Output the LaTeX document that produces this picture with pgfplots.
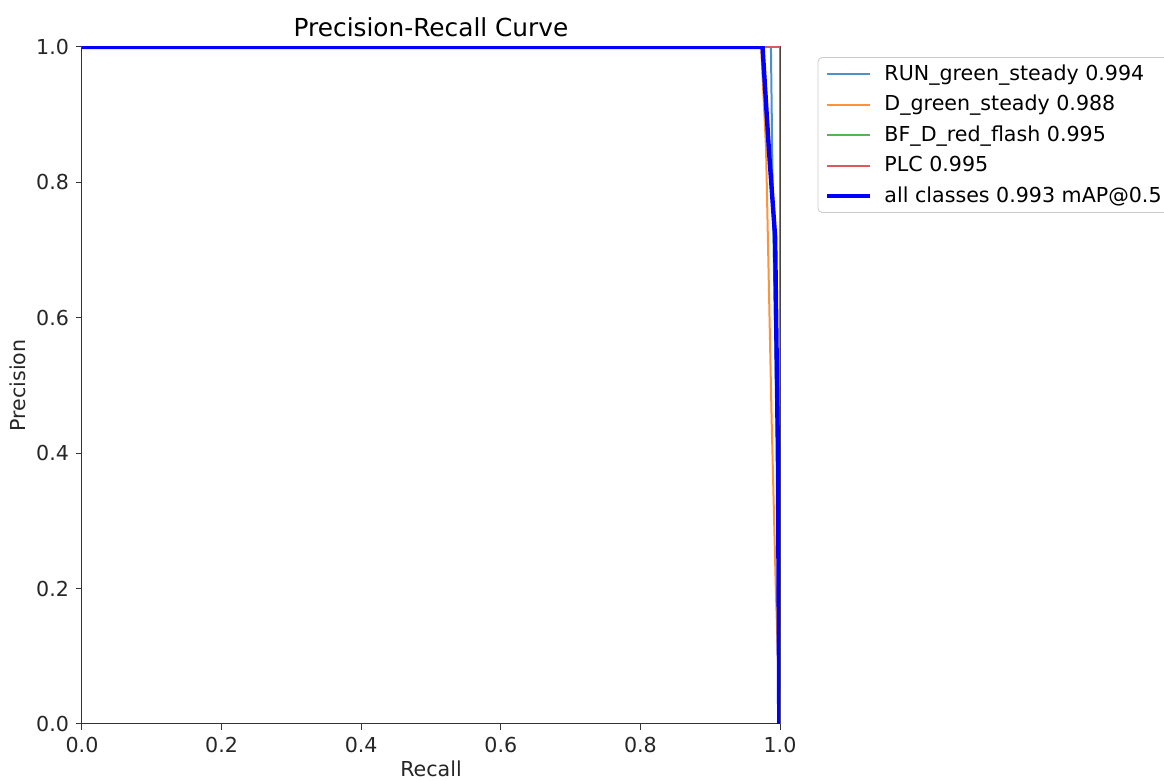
\documentclass[border=0pt]{standalone}
\usepackage{pgfplots}
\pgfplotsset{compat=1.18}
\usepackage{fontspec}
\setmainfont{DejaVu Sans}
\definecolor{runcol}{HTML}{4C92C8}
\definecolor{dcol}{HTML}{FF933A}
\definecolor{bfcol}{HTML}{56B356}
\definecolor{plccol}{HTML}{DE5A5A}
\begin{document}
\begin{tikzpicture}
\begin{axis}[
  scale only axis,
  width=349pt, height=338.5pt,
  xmin=0, xmax=1, ymin=0, ymax=1,
  xtick={0,0.2,...,1.0}, ytick={0,0.2,...,1.0},
  xticklabel style={/pgf/number format/.cd,fixed,fixed zerofill,precision=1,assume math mode=true},
  yticklabel style={/pgf/number format/.cd,fixed,fixed zerofill,precision=1,assume math mode=true},
  tick label style={font=\fontsize{10.3}{12}\selectfont, color=black!85},
  tick align=outside, tickwidth=3pt,
  xtick pos=bottom, ytick pos=left,
  axis line style={black!80, line width=0.5pt},
  major tick style={black!80, line width=0.5pt},
  xlabel={Recall}, ylabel={Precision},
  label style={font=\fontsize{10.3}{12}\selectfont, color=black!85},
  xlabel style={yshift=3pt},
  ylabel style={yshift=-1.5pt},
  title={Precision-Recall Curve},
  title style={font=\fontsize{12.4}{14}\selectfont, yshift=-4.5pt},
  legend style={at={(1.054,0.985)}, anchor=north west, draw=black!20,
    rounded corners=2pt, font=\fontsize{10.3}{12}\selectfont, row sep=2pt,
    inner xsep=3.5pt, inner ysep=1.5pt, legend cell align=left,
    nodes={inner xsep=6pt}},
  legend image code/.code={\draw[#1] (0cm,0cm) -- (21.5pt,0cm);},
]
\addplot[color=runcol, line width=1pt] coordinates {
  (0,1)(0.987,1)(0.990,0.75)(0.996,0.40)(1.0,0.0)
};
\addlegendentry{RUN\_green\_steady 0.994}
\addplot[color=dcol, line width=1pt] coordinates {
  (0,1)(0.973,1)(0.980,0.85)(0.988,0.45)(0.994,0.20)(1.0,0.0)
};
\addlegendentry{D\_green\_steady 0.988}
\addplot[color=bfcol, line width=1pt] coordinates {
  (0,1)(1.0,1)(1.0,0.0)
};
\addlegendentry{BF\_D\_red\_flash 0.995}
\addplot[color=plccol, line width=1pt] coordinates {
  (0,1)(1.0,1)(1.0,0.0)
};
\addlegendentry{PLC 0.995}
\addplot[color=blue, line width=2.2pt] coordinates {
  (0,1)(0.975,1)(0.984,0.85)(0.993,0.72)(0.997,0.40)(0.999,0.0)
};
\addlegendentry{all classes 0.993 mAP@0.5}
\end{axis}
\pgfresetboundingbox
\path[use as bounding box] (-41pt,-28.5pt) rectangle (541pt,362pt);
\end{tikzpicture}
\end{document}
